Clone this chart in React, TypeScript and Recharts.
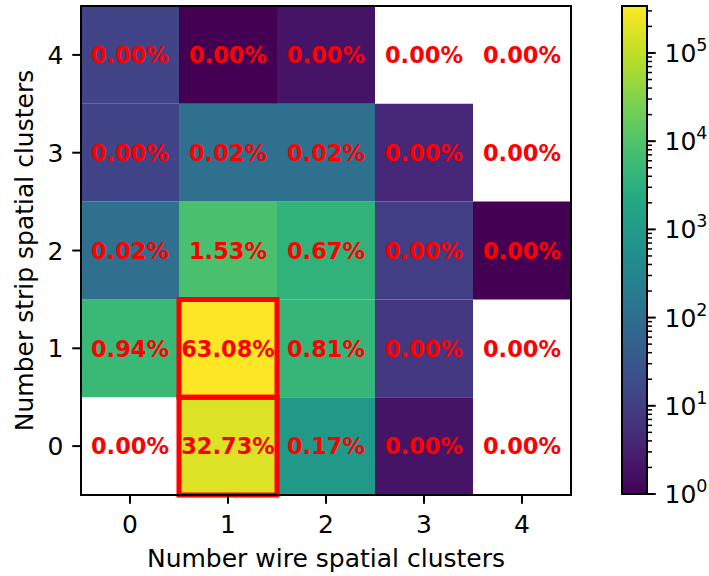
import React from 'react';
import { ScatterChart, Scatter, XAxis, YAxis, ReferenceArea, ComposedChart, Label } from 'recharts';

// ---- data ----
const wireClusters = [0, 1, 2, 3, 4];
const stripClusters = [0, 1, 2, 3, 4];
// counts per strip row, indexed by wire clusters 0..4
const countsStrip0 = [0, 176740, 918, 2, 0];
const countsStrip1 = [5076, 340630, 4374, 8, 0];
const countsStrip2 = [108, 8262, 3618, 10, 1];
const countsStrip3 = [13, 108, 108, 4, 0];
const countsStrip4 = [13, 1, 2, 0, 0];
const highlightedWire = [1, 1];
const highlightedStrip = [1, 0];
const colorbarMajorTicks = [1, 10, 100, 1000, 10000, 100000];
const colorbarMin = 1;

const xLabel = 'Number wire spatial clusters';
const yLabel = 'Number strip spatial clusters';

const FONT = '"DejaVu Sans", sans-serif';

const countRows = [countsStrip0, countsStrip1, countsStrip2, countsStrip3, countsStrip4];
const total = countRows.reduce((s, r) => s + r.reduce((a, b) => a + b, 0), 0);
const colorbarMax = Math.max(...countRows.map((r) => Math.max(...r)));

const cellData = stripClusters.flatMap((s) =>
  wireClusters.map((w) => ({
    wire: w,
    strip: s,
    count: countRows[s][w],
    pct: ((countRows[s][w] / total) * 100).toFixed(2) + '%',
  }))
);

const colorbarMinorTicks: number[] = [];
for (let d = 1; d <= 100000; d *= 10) {
  for (let k = 2; k <= 9; k++) {
    if (k * d <= colorbarMax) colorbarMinorTicks.push(k * d);
  }
}
const colorbarTicks = [...colorbarMajorTicks, ...colorbarMinorTicks].sort((a, b) => a - b);

// ---- viridis ----
const VIRIDIS = ['#440154', '#482475', '#414487', '#355f8d', '#2a788e', '#21918c', '#22a884', '#44bf70', '#7ad151', '#bddf26', '#fde725'];
function hexToRgb(h: string) {
  return [parseInt(h.slice(1, 3), 16), parseInt(h.slice(3, 5), 16), parseInt(h.slice(5, 7), 16)];
}
function viridis(t: number) {
  const tt = Math.max(0, Math.min(1, t));
  const p = tt * (VIRIDIS.length - 1);
  const i = Math.min(Math.floor(p), VIRIDIS.length - 2);
  const f = p - i;
  const a = hexToRgb(VIRIDIS[i]);
  const b = hexToRgb(VIRIDIS[i + 1]);
  const c = a.map((v, k) => Math.round(v + (b[k] - v) * f));
  return `rgb(${c[0]},${c[1]},${c[2]})`;
}
function cellColor(count: number) {
  return viridis((Math.log10(count) - Math.log10(colorbarMin)) / (Math.log10(colorbarMax) - Math.log10(colorbarMin)));
}

// ---- custom renderers ----
const XTick = (props: any) => {
  const { x, y, payload } = props;
  return (
    <text x={x} y={y + 29} textAnchor="middle" fontFamily={FONT} fontSize={25} fill="#000">
      {payload.value}
    </text>
  );
};
const YTick = (props: any) => {
  const { x, y, payload } = props;
  return (
    <text x={x - 8.75} y={y + 9.1} textAnchor="end" fontFamily={FONT} fontSize={25} fill="#000">
      {payload.value}
    </text>
  );
};
const ColorbarTick = (props: any) => {
  const { x, y, payload } = props;
  const v = payload.value;
  const major = colorbarMajorTicks.includes(v);
  const exp = Math.round(Math.log10(v));
  return (
    <g>
      <line x1={x} x2={x + (major ? 8.75 : 5)} y1={y} y2={y} stroke="#000" strokeWidth={major ? 2 : 1.5} />
      {major && (
        <text x={x + 17.5} y={y + 9.1} fontFamily={FONT} fontSize={25} fill="#000">
          <tspan>10</tspan>
          <tspan dy={-11} fontSize={17.5}>{exp}</tspan>
        </text>
      )}
    </g>
  );
};
const CellLabel = (props: any) => {
  const { cx, cy, payload } = props;
  return (
    <text x={cx} y={cy + 8.2} textAnchor="middle" fontFamily={FONT} fontWeight="bold" fontSize={22.5} fill="#ff0000">
      {payload.pct}
    </text>
  );
};

export default function App() {
  return (
    <div style={{ position: 'absolute', left: 0, top: 0, width: 709, height: 576, background: '#fff' }}>
      <div style={{ position: 'absolute', left: 0, top: 0 }}>
        <ScatterChart width={709} height={576} margin={{ top: 6, right: 138, bottom: 0, left: 0 }}>
          <XAxis
            type="number"
            dataKey="wire"
            domain={[-0.5, 4.5]}
            ticks={wireClusters}
            interval={0}
            allowDataOverflow
            height={81}
            axisLine={false}
            tickLine={{ stroke: '#000', strokeWidth: 2 }}
            tickSize={8.75}
            tickMargin={0}
            tick={XTick}
          >
            <Label
              content={(p: any) => {
                const vb = p.viewBox;
                return (
                  <text x={vb.x + vb.width / 2} y={vb.y + 71.5} textAnchor="middle" fontFamily={FONT} fontSize={25} fill="#000">
                    {xLabel}
                  </text>
                );
              }}
            />
          </XAxis>
          <YAxis
            type="number"
            dataKey="strip"
            domain={[-0.5, 4.5]}
            ticks={stripClusters}
            interval={0}
            allowDataOverflow
            width={81}
            axisLine={false}
            tickLine={{ stroke: '#000', strokeWidth: 2 }}
            tickSize={8.75}
            tickMargin={0}
            tick={YTick}
          >
            <Label
              content={(p: any) => {
                const vb = p.viewBox;
                const cx = 33;
                const cy = vb.y + vb.height / 2;
                return (
                  <text x={cx} y={cy} transform={`rotate(-90, ${cx}, ${cy})`} textAnchor="middle" fontFamily={FONT} fontSize={25} fill="#000">
                    {yLabel}
                  </text>
                );
              }}
            />
          </YAxis>
          {cellData
            .filter((c) => c.count > 0)
            .map((c) => (
              <ReferenceArea
                key={`cell-${c.wire}-${c.strip}`}
                x1={c.wire - 0.5}
                x2={c.wire + 0.5}
                y1={c.strip - 0.5}
                y2={c.strip + 0.5}
                fill={cellColor(c.count)}
                fillOpacity={1}
                stroke="none"
                ifOverflow="visible"
              />
            ))}
          {highlightedWire.map((w, i) => (
            <ReferenceArea
              key={`hl-${i}`}
              x1={w - 0.5}
              x2={w + 0.5}
              y1={highlightedStrip[i] - 0.5}
              y2={highlightedStrip[i] + 0.5}
              fill="none"
              fillOpacity={0}
              stroke="#ff0000"
              strokeWidth={5}
              ifOverflow="visible"
            />
          ))}
          <ReferenceArea x1={-0.5} x2={4.5} y1={-0.5} y2={4.5} fill="none" fillOpacity={0} stroke="#000" strokeWidth={2} ifOverflow="visible" />
          <Scatter data={cellData} isAnimationActive={false} shape={CellLabel} />
        </ScatterChart>
      </div>
      <div style={{ position: 'absolute', left: 600, top: 0 }}>
        <ComposedChart width={109} height={576} margin={{ top: 6, right: 0, bottom: 82, left: 22 }} data={[{ x: 0 }, { x: 1 }]}>
          <defs>
            <linearGradient id="viridisGrad" x1="0" y1="1" x2="0" y2="0">
              {VIRIDIS.map((c, i) => (
                <stop key={i} offset={i / (VIRIDIS.length - 1)} stopColor={c} />
              ))}
            </linearGradient>
          </defs>
          <XAxis type="number" dataKey="x" domain={[0, 1]} hide />
          <YAxis
            type="number"
            scale="log"
            domain={[colorbarMin, colorbarMax]}
            allowDataOverflow
            orientation="right"
            width={62}
            ticks={colorbarTicks}
            interval={0}
            axisLine={false}
            tickLine={false}
            tickSize={0}
            tickMargin={0}
            tick={ColorbarTick}
          />
          <ReferenceArea x1={0} x2={1} y1={colorbarMin} y2={colorbarMax} fill="url(#viridisGrad)" fillOpacity={1} stroke="#000" strokeWidth={2} ifOverflow="visible" />
        </ComposedChart>
      </div>
    </div>
  );
}
